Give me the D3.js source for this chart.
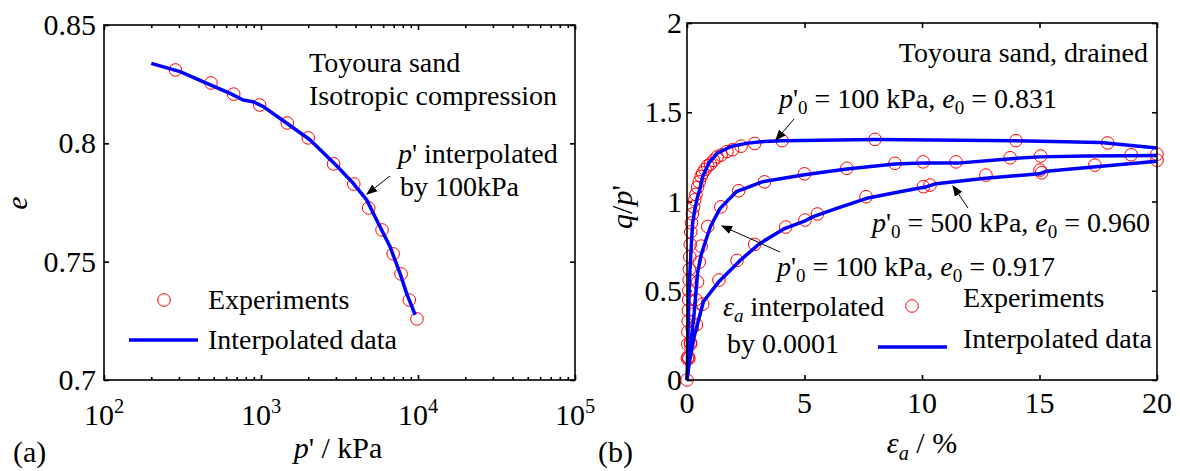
<!DOCTYPE html>
<html>
<head>
<meta charset="utf-8">
<script src="https://cdn.jsdelivr.net/npm/d3@7"></script>
<style>
  body { margin: 0; background: #fff; }
</style>
</head>
<body>
<svg id="chart" width="1180" height="471"></svg>
<script>
// ---------- panel (a): isotropic compression ----------
const pExp = [285, 480, 670, 980, 1470, 2000, 2900, 3900, 4850, 5900, 6950, 7800, 8800, 9850];
const eExp = [0.831, 0.8255, 0.8208, 0.8162, 0.8086, 0.8023, 0.7913, 0.7828, 0.7727, 0.7634, 0.7533, 0.7448, 0.7338, 0.7258];
const pLine = [200, 305, 430, 635, 770, 890, 1035, 1460, 2050, 3030, 3870, 4710, 5450, 6640, 7680, 8460, 9600];
const eLine = [0.8338, 0.8303, 0.826, 0.8211, 0.8183, 0.8176, 0.8155, 0.8085, 0.8015, 0.7905, 0.7831, 0.7761, 0.7676, 0.7563, 0.7451, 0.7366, 0.7275];
const yTicksA = [0.7, 0.75, 0.8, 0.85];
const xTicksA = [2, 3, 4, 5]; // exponents of 10

// ---------- panel (b): drained triaxial ----------
// p'0 = 100 kPa, e0 = 0.831
const eps1Exp = [0, 0.02, 0.03, 0.04, 0.05, 0.06, 0.07, 0.08, 0.09, 0.1, 0.12, 0.14, 0.16, 0.19, 0.23, 0.28, 0.33, 0.38, 0.45, 0.52, 0.6, 0.67, 0.77, 0.88, 1.0, 1.13, 1.28, 1.45, 1.7, 1.94, 2.3, 2.88, 4.05, 8.0, 14.0, 17.9];
const q1Exp = [0, 0.12, 0.2, 0.27, 0.33, 0.39, 0.45, 0.5, 0.56, 0.62, 0.69, 0.76, 0.83, 0.88, 0.93, 0.97, 1.01, 1.04, 1.08, 1.11, 1.14, 1.16, 1.18, 1.2, 1.21, 1.23, 1.25, 1.26, 1.28, 1.29, 1.31, 1.325, 1.341, 1.348, 1.341, 1.328];
const eps1Line = [0, 0.05, 0.1, 0.17, 0.24, 0.34, 0.45, 0.55, 0.67, 0.84, 0.95, 1.3, 1.87, 2.58, 3.3, 4.0, 8.0, 14.0, 17.6, 20];
const q1Line = [0, 0.3, 0.55, 0.72, 0.88, 0.96, 1.028, 1.07, 1.14, 1.19, 1.22, 1.271, 1.308, 1.327, 1.336, 1.341, 1.347, 1.341, 1.33, 1.3];
// p'0 = 100 kPa, e0 = 0.917
const eps2Exp = [0.08, 0.15, 0.22, 0.3, 0.38, 0.45, 0.52, 0.6, 0.88, 1.44, 2.2, 3.3, 5.0, 6.8, 8.85, 10.05, 11.45, 13.75, 15.05, 18.9, 20];
const q2Exp = [0.12, 0.2, 0.29, 0.37, 0.45, 0.55, 0.66, 0.75, 0.86, 0.97, 1.06, 1.11, 1.155, 1.186, 1.214, 1.222, 1.222, 1.245, 1.255, 1.262, 1.265];
const eps2Line = [0, 0.1, 0.2, 0.31, 0.45, 0.6, 0.77, 1.0, 1.4, 2.1, 3.2, 5.0, 6.8, 8.85, 10, 11.5, 13.8, 15, 17, 20];
const q2Line = [0, 0.13, 0.25, 0.38, 0.6, 0.7, 0.77, 0.86, 0.96, 1.055, 1.11, 1.15, 1.182, 1.21, 1.215, 1.215, 1.24, 1.25, 1.255, 1.258];
// p'0 = 500 kPa, e0 = 0.960
const eps3Exp = [0.05, 0.15, 0.4, 0.67, 1.36, 2.13, 2.88, 4.2, 5.02, 5.55, 7.62, 10.06, 10.34, 12.72, 15.02, 15.09, 17.36, 20];
const q3Exp = [0.13, 0.21, 0.31, 0.425, 0.56, 0.67, 0.76, 0.857, 0.896, 0.93, 1.027, 1.083, 1.092, 1.148, 1.176, 1.161, 1.204, 1.231];
const eps3Line = [0, 0.1, 0.3, 0.7, 1.35, 2.26, 3.1, 4.17, 5.0, 5.37, 6.37, 7.65, 9.06, 10.2, 10.6, 12.7, 15.0, 15.3, 17.4, 20];
const q3Line = [0, 0.1, 0.24, 0.44, 0.55, 0.67, 0.765, 0.85, 0.89, 0.915, 0.962, 1.018, 1.055, 1.083, 1.1, 1.13, 1.155, 1.17, 1.195, 1.225];
const xTicksB = [0, 5, 10, 15, 20];
const yTicksB = [0, 0.5, 1, 1.5, 2];

const legendLabels = ["Experiments", "Interpolated data"];

const RED = "#ff0000", BLUE = "#0000ff";
const FONT = "Liberation Serif";
const FS = 28;   // annotation text
const TS = 30;   // tick labels / axis titles
const svg = d3.select("#chart");

const zip = (a, b) => a.map((v, i) => [v, b[i]]);

svg.append("defs").append("marker")
  .attr("id", "arrow").attr("viewBox", "0 0 10 10")
  .attr("refX", 9).attr("refY", 5)
  .attr("markerWidth", 11).attr("markerHeight", 11)
  .attr("markerUnits", "userSpaceOnUse")
  .attr("orient", "auto")
  .append("path").attr("d", "M0,1 L10,5 L0,9 Z").attr("fill", "#000");

function setFont(sel) {
  return sel.style("font-family", `"${FONT}"`);
}

// plain text helper
function label(g, x, y, str, size, anchor) {
  return setFont(g.append("text")).attr("x", x).attr("y", y)
    .attr("font-size", size || FS)
    .attr("text-anchor", anchor || "start").attr("fill", "#000").text(str);
}

// text with italic / subscript / superscript pieces
function rich(g, x, y, parts, anchor, size) {
  const fs = size || FS;
  const t = setFont(g.append("text")).attr("x", x).attr("y", y)
    .attr("fill", "#000")
    .attr("text-anchor", anchor || "start")
    .attr("font-size", fs);
  let shift = 0;
  parts.forEach(p => {
    const s = setFont(t.append("tspan")).text(p.t);
    const want = p.sub ? Math.round(fs * 0.22) : p.sup ? -Math.round(fs * 0.4) : 0;
    if (want !== shift) { s.attr("dy", want - shift); shift = want; }
    if (p.i) s.attr("font-style", "italic");
    if (p.sub || p.sup) s.attr("font-size", fs * 0.68);
  });
  return t;
}

function arrow(g, x1, y1, x2, y2) {
  g.append("line").attr("x1", x1).attr("y1", y1).attr("x2", x2).attr("y2", y2)
    .attr("stroke", "#000").attr("stroke-width", 1).attr("marker-end", "url(#arrow)");
}

function frame(g, x, y) {
  const [x0, x1] = x.range(), [y0, y1] = y.range();
  g.append("rect").attr("x", x0).attr("y", y1).attr("width", x1 - x0).attr("height", y0 - y1)
    .attr("fill", "none").attr("stroke", "#000").attr("stroke-width", 1.6);
}

function styleAxis(sel) {
  sel.select(".domain").remove();
  sel.selectAll(".tick line").attr("stroke", "#000").attr("stroke-width", 1.6);
}

// ================= panel (a) =================
const xA = d3.scaleLog().domain([100, 1e5]).range([104, 575]);
const yA = d3.scaleLinear().domain([0.7, 0.85]).range([380, 25]);
const gA = svg.append("g");

const majorA = xTicksA.map(k => Math.pow(10, k));
const minorA = [];
[2, 3, 4].forEach(k => d3.range(2, 10).forEach(m => minorA.push(m * Math.pow(10, k))));

[[d3.axisBottom, yA(0.7)], [d3.axisTop, yA(0.85)]].forEach(([ax, ty]) => {
  gA.append("g").attr("transform", `translate(0,${ty})`)
    .call(ax(xA).tickValues(majorA).tickSize(-5).tickFormat(""))
    .call(styleAxis);
  gA.append("g").attr("transform", `translate(0,${ty})`)
    .call(ax(xA).tickValues(minorA).tickSize(-3).tickFormat(""))
    .call(styleAxis);
});
gA.append("g").attr("transform", `translate(${xA(100)},0)`)
  .call(d3.axisLeft(yA).tickValues(yTicksA).tickSize(-5).tickFormat("")).call(styleAxis);
gA.append("g").attr("transform", `translate(${xA(1e5)},0)`)
  .call(d3.axisRight(yA).tickValues(yTicksA).tickSize(-5).tickFormat("")).call(styleAxis);

yTicksA.forEach(v => label(gA, xA(100) - 8, yA(v) + 10, v, TS, "end"));
xTicksA.forEach(k => {
  rich(gA, xA(Math.pow(10, k)), 425, [{ t: "10" }, { t: String(k), sup: 1 }], "middle", TS);
});

gA.selectAll("circle.exp").data(zip(pExp, eExp)).join("circle")
  .attr("class", "exp")
  .attr("cx", d => xA(d[0])).attr("cy", d => yA(d[1])).attr("r", 6.3)
  .attr("fill", "none").attr("stroke", RED).attr("stroke-width", 1);

gA.append("path").datum(zip(pLine, eLine))
  .attr("d", d3.line().x(d => xA(d[0])).y(d => yA(d[1])))
  .attr("fill", "none").attr("stroke", BLUE).attr("stroke-width", 3.5)
  .attr("stroke-linejoin", "round");

frame(gA, xA, yA);

label(gA, 309, 72, "Toyoura sand");
label(gA, 309, 105, "Isotropic compression");
rich(gA, 398, 163, [{ t: "p", i: 1 }, { t: "' interpolated" }]);
label(gA, 400, 196, "by 100kPa");
arrow(gA, 390, 176, 367, 194);

// legend (a)
gA.append("circle").attr("cx", 164).attr("cy", 300).attr("r", 6.3)
  .attr("fill", "none").attr("stroke", RED).attr("stroke-width", 1);
label(gA, 208, 309, legendLabels[0]);
gA.append("line").attr("x1", 129).attr("x2", 198).attr("y1", 340).attr("y2", 340)
  .attr("stroke", BLUE).attr("stroke-width", 3.5);
label(gA, 208, 349, legendLabels[1]);

// axis labels (a)
rich(gA, 338, 458, [{ t: "p", i: 1 }, { t: "' / kPa" }], "middle", TS);
label(gA, 0, 0, "e", TS, "middle").attr("font-style", "italic")
  .attr("transform", "translate(27,203) rotate(-90)");
label(gA, 13, 462, "(a)", TS);

// ================= panel (b) =================
const xB = d3.scaleLinear().domain([0, 20]).range([687, 1157]);
const yB = d3.scaleLinear().domain([0, 2]).range([380, 23]);
const gB = svg.append("g");

gB.append("g").attr("transform", `translate(0,${yB(0)})`)
  .call(d3.axisBottom(xB).tickValues(xTicksB).tickSize(-5).tickFormat("")).call(styleAxis);
gB.append("g").attr("transform", `translate(0,${yB(2)})`)
  .call(d3.axisTop(xB).tickValues(xTicksB).tickSize(-5).tickFormat("")).call(styleAxis);
gB.append("g").attr("transform", `translate(${xB(0)},0)`)
  .call(d3.axisLeft(yB).tickValues(yTicksB).tickSize(-5).tickFormat("")).call(styleAxis);
gB.append("g").attr("transform", `translate(${xB(20)},0)`)
  .call(d3.axisRight(yB).tickValues(yTicksB).tickSize(-5).tickFormat("")).call(styleAxis);

yTicksB.forEach(v => label(gB, xB(0) - 5, yB(v) + 10, v, TS, "end"));
xTicksB.forEach(v => label(gB, xB(v), 413, v, TS, "middle"));

const curves = [
  { exp: zip(eps1Exp, q1Exp), line: zip(eps1Line, q1Line) },
  { exp: zip(eps2Exp, q2Exp), line: zip(eps2Line, q2Line) },
  { exp: zip(eps3Exp, q3Exp), line: zip(eps3Line, q3Line) }
];

curves.forEach(c => {
  gB.append("g").selectAll("circle").data(c.exp).join("circle")
    .attr("cx", d => xB(d[0])).attr("cy", d => yB(d[1])).attr("r", 6.3)
    .attr("fill", "none").attr("stroke", RED).attr("stroke-width", 1);
});
curves.forEach(c => {
  gB.append("path").datum(c.line)
    .attr("d", d3.line().x(d => xB(d[0])).y(d => yB(d[1])))
    .attr("fill", "none").attr("stroke", BLUE).attr("stroke-width", 3.5)
    .attr("stroke-linejoin", "round");
});

frame(gB, xB, yB);

label(gB, 1148, 62, "Toyoura sand, drained", FS, "end");

const stateLabel = (p0, e0) => [
  { t: "p", i: 1 }, { t: "'" }, { t: "0", sub: 1 }, { t: " = " + p0 + " kPa, " },
  { t: "e", i: 1 }, { t: "0", sub: 1 }, { t: " = " + e0 }
];
rich(gB, 779, 108, stateLabel(100, "0.831"));
arrow(gB, 794, 119, 776, 140);
rich(gB, 872, 232, stateLabel(500, "0.960"));
arrow(gB, 968, 208, 953, 186);
rich(gB, 777, 276, stateLabel(100, "0.917"));
arrow(gB, 780, 252, 722, 226);

rich(gB, 723, 316, [{ t: "ε", i: 1 }, { t: "a", i: 1, sub: 1 }, { t: " interpolated" }]);
label(gB, 727, 353, "by 0.0001");

// legend (b)
gB.append("circle").attr("cx", 912).attr("cy", 306).attr("r", 6.3)
  .attr("fill", "none").attr("stroke", RED).attr("stroke-width", 1);
label(gB, 963, 307, legendLabels[0]);
gB.append("line").attr("x1", 878).attr("x2", 947).attr("y1", 347).attr("y2", 347)
  .attr("stroke", BLUE).attr("stroke-width", 3.5);
label(gB, 963, 348, legendLabels[1]);

// axis labels (b)
rich(gB, 922, 453, [{ t: "ε", i: 1 }, { t: "a", i: 1, sub: 1 }, { t: " / %" }], "middle", TS);
rich(gB, 0, 0, [{ t: "q", i: 1 }, { t: "/" }, { t: "p", i: 1 }, { t: "'" }], "middle", TS)
  .attr("transform", "translate(632,207) rotate(-90)");
label(gB, 598, 462, "(b)", TS);
</script>
</body>
</html>
